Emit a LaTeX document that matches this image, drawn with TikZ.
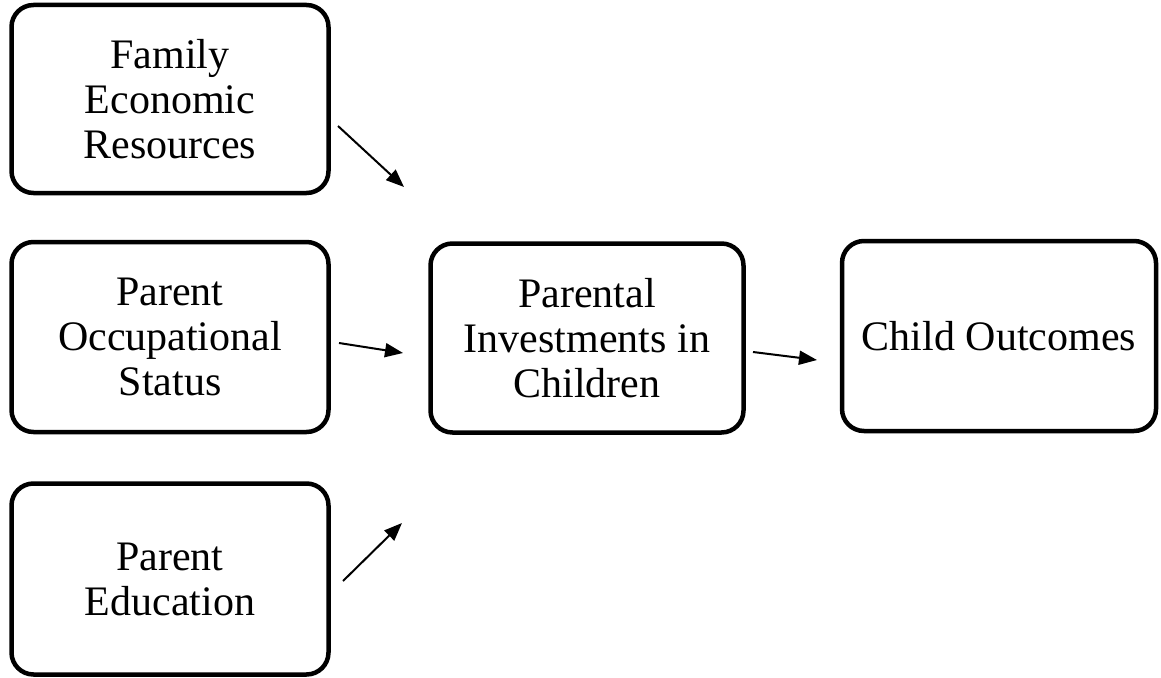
\documentclass[tikz,border=0pt]{standalone}
\usepackage{fontspec}
\setmainfont{Liberation Serif}
\usetikzlibrary{arrows.meta}
\begin{document}
\begin{tikzpicture}[x=1pt,y=-1pt,
  box/.style={draw, line width=4.5pt, rounded corners=22pt, align=center,
    font=\fontsize{42}{45}\selectfont, inner sep=0pt},
  arr/.style={line width=2pt, -{Triangle[length=18pt,width=14pt]}}]
\useasboundingbox (0,0) rectangle (1161,677);
\node[box, minimum width=317pt, minimum height=188pt] (fer) at (170,99) {Family\\Economic\\Resources};
\node[box, minimum width=317pt, minimum height=190pt] (pos) at (170,337) {Parent\\Occupational\\Status};
\node[box, minimum width=317pt, minimum height=191pt] (pe) at (170,579) {Parent\\Education};
\node[box, minimum width=313pt, minimum height=189pt] (pi) at (587,338) {Parental\\Investments in\\Children};
\node[box, minimum width=314pt, minimum height=190pt] (co) at (999,336) {Child Outcomes};
\coordinate (a1s) at (338,126); \coordinate (a1e) at (404,187);
\coordinate (a2s) at (339,343); \coordinate (a2e) at (403,353);
\coordinate (a3s) at (343,581); \coordinate (a3e) at (402,523);
\coordinate (a4s) at (753,352); \coordinate (a4e) at (817,360);
\draw[arr] (a1s) -- (a1e);
\draw[arr] (a2s) -- (a2e);
\draw[arr] (a3s) -- (a3e);
\draw[arr] (a4s) -- (a4e);
\end{tikzpicture}
\end{document}
